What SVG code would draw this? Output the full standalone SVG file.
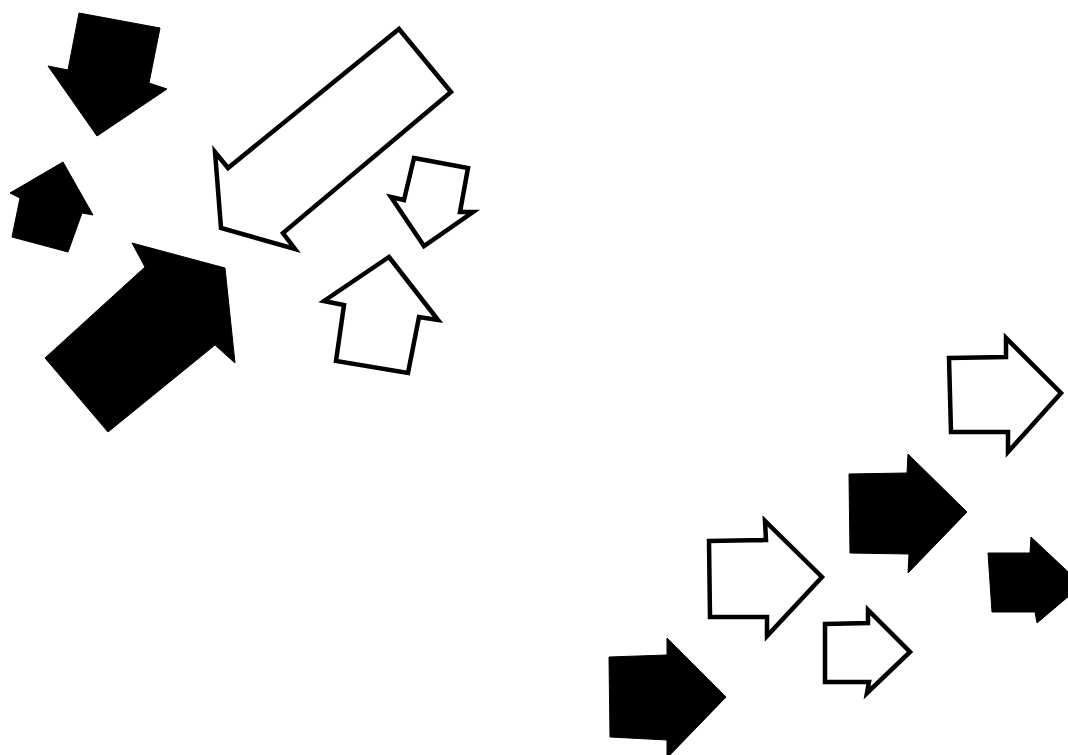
<svg xmlns="http://www.w3.org/2000/svg" width="1068" height="755" viewBox="0 0 1068 755">
<style>
.solid{fill:#000;stroke:#000;stroke-width:1;stroke-linejoin:miter}
.open{fill:#fff;stroke:#000;stroke-width:4.5;stroke-linejoin:miter}
</style>
<rect width="1068" height="755" fill="#fff"/>
<g id="arrow-black-down"><polygon class="solid" points="79,13 160,28 149,83 167,89 97,136 48,66 68,70"/></g>
<g id="arrow-black-up-small"><polygon class="solid" points="63,162 93,215 82,213 68,252 12,237 20,198 10,193"/></g>
<g id="arrow-open-downleft"><polygon class="open" points="399,29 451,92 283,233 295,249 221,228 215,152 228,168"/></g>
<g id="arrow-open-down-small"><polygon class="open" points="414,158 468,168 460,212 473,212 424,246 391,197 404,200"/></g>
<g id="arrow-black-upright"><polygon class="solid" points="132,243 225,268 235,363 215,345 108,432 45,358 145,267"/></g>
<g id="arrow-open-up"><polygon class="open" points="389,257 438,320 419,317 408,373 336,361 344,305 324,301"/></g>
<g id="arrow-open-right-top"><polygon class="open" points="949,358 1006,357 1006,338 1061,393 1008,452 1008,432 951,432"/></g>
<g id="arrow-black-right-mid"><polygon class="solid" points="849,474 907,473 908,454 967,512 908,573 909,554 850,553"/></g>
<g id="arrow-black-right-edge"><polygon class="solid" points="988,553 1030,553 1031,537 1082,585 1037,623 1035,612 992,612"/></g>
<g id="arrow-open-right-mid"><polygon class="open" points="709,541 766,540 765,521 822,577 767,636 767,617 710,617"/></g>
<g id="arrow-open-right-small"><polygon class="open" points="825,624 868,623 868,610 910,652 867,693 869,682 825,682"/></g>
<g id="arrow-black-right-bottom"><polygon class="solid" points="609,657 667,655 667,638 726,697 667,758 667,740 610,737"/></g>
</svg>
